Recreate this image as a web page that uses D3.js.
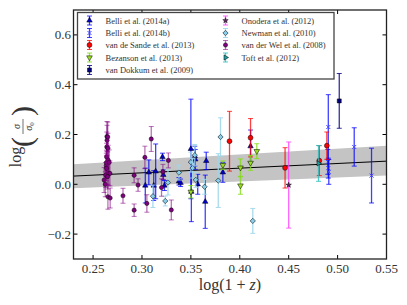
<!DOCTYPE html>
<html>
<head>
<meta charset="utf-8">
<script src="https://cdn.jsdelivr.net/npm/d3@7"></script>
<style>
  body { margin: 0; background: #fff; }
</style>
</head>
<body>
<div id="chart"></div>
<script>
// size of the picture and of the plot frame
const width = 407;
const height = 305;
const margin = { left: 73.5, right: 20.5, top: 10, bottom: 46 };
const serif = "'Liberation Serif', 'Times New Roman', 'DejaVu Serif', serif";

// axis ticks
const xTicks = [0.25, 0.30, 0.35, 0.40, 0.45, 0.50, 0.55];
const yTicks = [-0.2, 0.0, 0.2, 0.4, 0.6];

// Belli et al. (2014a)
const belliAX = [0.3034, 0.307, 0.312, 0.314, 0.321, 0.3218, 0.323, 0.3378, 0.3395, 0.350, 0.3505, 0.354, 0.3545, 0.357, 0.3657, 0.3647, 0.3827, 0.411];
const belliAY = [-0.005, 0.048, -0.005, 0.052, 0.11, 0.038, -0.005, 0.012, 0.006, 0.142, -0.03, 0.113, 0.10, 0.0, 0.094, -0.07, 0.048, 0.153];
const belliAE = [0.07, 0.05, 0.06, 0.11, 0.015, 0.02, 0.02, 0.015, 0.015, 0.2, 0.12, 0.04, 0.04, 0.04, 0.035, 0.107, 0.04, 0.065];

// Belli et al. (2014b)
const belliBX = [0.4905, 0.490, 0.4905, 0.491, 0.517, 0.5347];
const belliBY = [0.23, 0.09, 0.065, 0.05, 0.15, 0.035];
const belliBE = [0.13, 0.05, 0.04, 0.05, 0.077, 0.11];

// van de Sande et al. (2013)
const sandeX = [0.3895, 0.411, 0.4463, 0.4813, 0.489];
const sandeY = [0.173, 0.187, 0.066, 0.095, 0.155];
const sandeE = [0.12, 0.077, 0.081, 0.06, 0.055];

// Bezanson et al. (2013)
const bezX = [0.350, 0.3827, 0.4007, 0.4007, 0.411, 0.4174];
const bezY = [-0.03, 0.077, 0.067, -0.005, 0.086, 0.133];
const bezE = [0.025, 0.017, 0.035, 0.035, 0.03, 0.03];

// van Dokkum et al. (2009)
const dokX = [0.5017];
const dokY = [0.335];
const dokE = [0.11];

// Onodera et al. (2012)
const onoX = [0.450];
const onoY = [-0.003];
const onoE = [0.173];

// Newman et al. (2010)
const newX = [0.3112, 0.3238, 0.3266, 0.3378, 0.350, 0.3517, 0.354, 0.355, 0.364, 0.378, 0.3803, 0.4133];
const newY = [-0.048, -0.067, 0.007, 0.047, 0.089, 0.065, 0.117, 0.018, -0.01, 0.015, 0.19, -0.147];
const newE = [0.045, 0.02, 0.05, 0.03, 0.04, 0.04, 0.043, 0.03, 0.03, 0.108, 0.077, 0.05];

// van der Wel et al. (2008)
const welX = [0.2613, 0.2625, 0.263, 0.2635, 0.2636, 0.2638, 0.264, 0.2643, 0.2642, 0.265, 0.2652, 0.2655, 0.2658, 0.2665, 0.2672, 0.2652, 0.2675, 0.2637, 0.2648, 0.2806, 0.292, 0.292, 0.296, 0.303, 0.305, 0.3095, 0.320, 0.3214, 0.327, 0.330];
const welY = [0.017, 0.0, 0.037, 0.075, 0.087, 0.11, 0.15, 0.177, 0.192, 0.19, 0.145, 0.097, 0.044, 0.088, 0.044, -0.05, -0.055, 0.064, 0.031, -0.046, 0.036, -0.104, -0.003, 0.108, -0.077, 0.182, -0.013, 0.05, 0.096, -0.103];
const welE = [0.05, 0.05, 0.05, 0.05, 0.05, 0.055, 0.06, 0.06, 0.06, 0.06, 0.06, 0.06, 0.05, 0.05, 0.05, 0.05, 0.04, 0.05, 0.05, 0.03, 0.03, 0.025, 0.025, 0.045, 0.035, 0.05, 0.035, 0.03, 0.03, 0.04];

// Toft et al. (2012)
const toftX = [0.4805];
const toftY = [0.084];
const toftE = [0.072];

// best fit line and its band
const fitX = [0.23, 0.55];
const fitY = [0.033, 0.093];
const fitLo = [-0.016, 0.035];
const fitHi = [0.081, 0.155];

const series = [
  { name: "Belli et al. (2014a)", x: belliAX, y: belliAY, e: belliAE, sym: d3.symbolTriangle, size: 13, rot: 0, fill: "#0000cc", bar: "rgba(0,0,255,0.75)" },
  { name: "Belli et al. (2014b)", x: belliBX, y: belliBY, e: belliBE, sym: d3.symbolTimes, size: 12, rot: 0, fill: "#4444ff", bar: "rgba(0,0,255,0.75)", line: true },
  { name: "van de Sande et al. (2013)", x: sandeX, y: sandeY, e: sandeE, sym: d3.symbolCircle, size: 19, rot: 0, fill: "#ff0000", bar: "rgba(255,0,0,0.75)" },
  { name: "Bezanson et al. (2013)", x: bezX, y: bezY, e: bezE, sym: d3.symbolTriangle, size: 14, rot: 180, fill: "#99dd22", bar: "rgba(130,220,20,0.8)" },
  { name: "van Dokkum et al. (2009)", x: dokX, y: dokY, e: dokE, sym: d3.symbolSquare, size: 16, rot: 0, fill: "#000080", bar: "rgba(0,0,128,0.8)" },
  { name: "Onodera et al. (2012)", x: onoX, y: onoY, e: onoE, sym: d3.symbolStar, size: 9, rot: 0, fill: "#662266", bar: "rgba(255,60,255,0.8)" },
  { name: "Newman et al. (2010)", x: newX, y: newY, e: newE, sym: d3.symbolSquare, size: 14, rot: 45, fill: "#87ceeb", bar: "rgba(160,215,235,0.9)" },
  { name: "van der Wel et al. (2008)", x: welX, y: welY, e: welE, sym: d3.symbolCircle, size: 14, rot: 0, fill: "#800080", bar: "rgba(128,0,128,0.55)" },
  { name: "Toft et al. (2012)", x: toftX, y: toftY, e: toftE, sym: d3.symbolTriangle, size: 12, rot: 90, fill: "#20a0a0", bar: "rgba(40,190,190,0.8)" }
];

const svg = d3.select("#chart")
  .append("svg")
  .attr("width", width)
  .attr("height", height)
  .attr("font-family", serif);

const xScale = d3.scaleLinear()
  .domain([0.23, 0.55])
  .range([margin.left, width - margin.right]);

const yScale = d3.scaleLinear()
  .domain([-0.3, 0.7])
  .range([height - margin.bottom, margin.top]);

svg.append("clipPath").attr("id", "clip")
  .append("rect")
  .attr("x", margin.left).attr("y", margin.top)
  .attr("width", width - margin.left - margin.right)
  .attr("height", height - margin.top - margin.bottom);

const plot = svg.append("g").attr("clip-path", "url(#clip)");

// band and fit line
const band = fitX.map((d, i) => ({ x: d, lo: fitLo[i], hi: fitHi[i] }));
plot.append("path")
  .datum(band)
  .attr("fill", "#c4c4c4")
  .attr("d", d3.area().x(d => xScale(d.x)).y0(d => yScale(d.lo)).y1(d => yScale(d.hi)));

plot.append("path")
  .datum(fitX.map((d, i) => [d, fitY[i]]))
  .attr("fill", "none")
  .attr("stroke", "#000")
  .attr("stroke-width", 1)
  .attr("d", d3.line().x(d => xScale(d[0])).y(d => yScale(d[1])));

// one errorbar with its marker
function drawPoint(g, s, cx, cy, top, bottom) {
  const cap = 2.5;
  g.append("line")
    .attr("x1", cx).attr("x2", cx).attr("y1", top).attr("y2", bottom)
    .attr("stroke", s.bar).attr("stroke-width", 1.3);
  [top, bottom].forEach(yy => {
    g.append("line")
      .attr("x1", cx - cap).attr("x2", cx + cap).attr("y1", yy).attr("y2", yy)
      .attr("stroke", s.bar).attr("stroke-width", 1);
  });
  const m = g.append("path")
    .attr("d", d3.symbol().type(s.sym).size(s.size)())
    .attr("transform", `translate(${cx},${cy}) rotate(${s.rot})`);
  if (s.line) {
    m.attr("fill", "none").attr("stroke", s.fill).attr("stroke-width", 1);
  } else {
    m.attr("fill", s.fill).attr("stroke", "#000").attr("stroke-width", 0.5);
  }
}

series.forEach(s => {
  const g = plot.append("g");
  s.x.forEach((xv, i) => {
    drawPoint(g, s, xScale(xv), yScale(s.y[i]), yScale(s.y[i] + s.e[i]), yScale(s.y[i] - s.e[i]));
  });
});

// frame and inward ticks on all sides
const x0 = margin.left, x1 = width - margin.right;
const y0 = margin.top, y1 = height - margin.bottom;
const tickLen = 4;

xTicks.forEach(t => {
  const px = xScale(t);
  svg.append("line").attr("x1", px).attr("x2", px).attr("y1", y1).attr("y2", y1 - tickLen).attr("stroke", "#000");
  svg.append("line").attr("x1", px).attr("x2", px).attr("y1", y0).attr("y2", y0 + tickLen).attr("stroke", "#000");
  svg.append("text")
    .attr("x", px).attr("y", y1 + 14)
    .attr("text-anchor", "middle")
    .attr("font-size", 13)
    .attr("fill", "#333")
    .text(t.toFixed(2));
});

yTicks.forEach(t => {
  const py = yScale(t);
  svg.append("line").attr("x1", x0).attr("x2", x0 + tickLen).attr("y1", py).attr("y2", py).attr("stroke", "#000");
  svg.append("line").attr("x1", x1).attr("x2", x1 - tickLen).attr("y1", py).attr("y2", py).attr("stroke", "#000");
  svg.append("text")
    .attr("x", x0 - 2.5).attr("y", py + 4.5)
    .attr("text-anchor", "end")
    .attr("font-size", 13)
    .attr("fill", "#333")
    .text(t < 0 ? "\u2212" + Math.abs(t).toFixed(1) : t.toFixed(1));
});

svg.append("rect")
  .attr("x", x0).attr("y", y0)
  .attr("width", x1 - x0).attr("height", y1 - y0)
  .attr("fill", "none")
  .attr("stroke", "#222")
  .attr("stroke-width", 1.3);

// x axis label
const xl = svg.append("text")
  .attr("x", (x0 + x1) / 2).attr("y", 290)
  .attr("text-anchor", "middle")
  .attr("font-size", 16)
  .attr("fill", "#333");
xl.append("tspan").text("log(1 + ");
xl.append("tspan").attr("font-style", "italic").text("z");
xl.append("tspan").text(")");

// y axis label: log( sigma / sigma_0 )
const yl = svg.append("g")
  .attr("transform", `translate(0, 138) rotate(-90)`)
  .attr("fill", "#333");
yl.append("text").attr("x", -19).attr("y", 21).attr("text-anchor", "middle").attr("font-size", 16).text("log");
yl.append("text").attr("x", -4).attr("y", 32).attr("text-anchor", "middle").attr("font-size", 30).text("(");
yl.append("text").attr("x", 27).attr("y", 32).attr("text-anchor", "middle").attr("font-size", 30).text(")");
yl.append("text").attr("x", 11.5).attr("y", 20).attr("text-anchor", "middle").attr("font-size", 10).attr("font-style", "italic").text("\u03c3");
yl.append("line").attr("x1", 4).attr("x2", 19).attr("y1", 23).attr("y2", 23).attr("stroke", "#333").attr("stroke-width", 0.7);
const sub = yl.append("text").attr("x", 11.5).attr("y", 32).attr("text-anchor", "middle").attr("font-size", 10);
sub.append("tspan").attr("font-style", "italic").text("\u03c3");
sub.append("tspan").attr("font-size", 7).attr("dy", 1.5).text("0");

// legend
const legend = svg.append("g");
legend.append("rect")
  .attr("x", 77.5).attr("y", 12.5)
  .attr("width", 256.5).attr("height", 66.5)
  .attr("fill", "#fff")
  .attr("stroke", "#444")
  .attr("stroke-width", 1.3);

const rowY = [20.5, 33, 45, 57.5, 70];
series.forEach((s, i) => {
  const col = i < 5 ? 0 : 1;
  const row = i < 5 ? i : i - 5;
  const mx = col === 0 ? 89.5 : 225.5;
  const ty = rowY[row];
  drawPoint(legend, s, mx, ty, ty - 4.5, ty + 4.5);
  legend.append("text")
    .attr("x", col === 0 ? 105.5 : 241.5).attr("y", ty + 3)
    .attr("font-size", 8.5)
    .attr("fill", "#333")
    .text(s.name);
});
</script>
</body>
</html>
